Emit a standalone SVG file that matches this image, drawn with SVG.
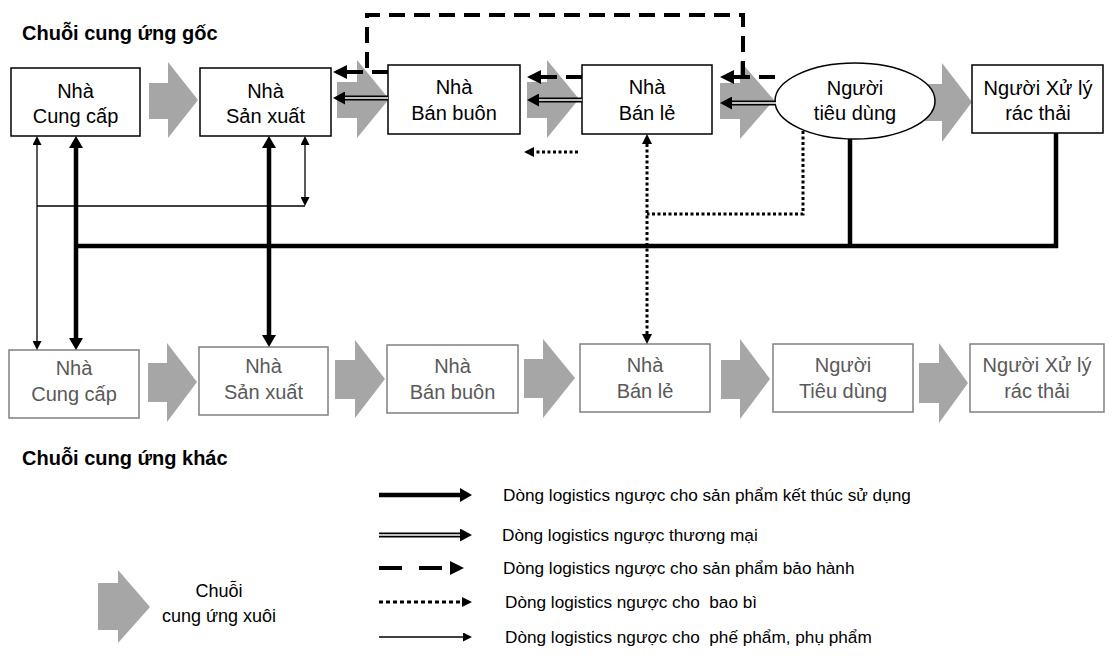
<svg xmlns="http://www.w3.org/2000/svg" width="1114" height="669" viewBox="0 0 1114 669">
<style>
.t{font-family:"Liberation Sans",Arial,sans-serif;font-size:20px;fill:#000;text-anchor:middle}
.tg{font-family:"Liberation Sans",Arial,sans-serif;font-size:20px;fill:#595959;text-anchor:middle}
.ttl{font-family:"Liberation Sans",Arial,sans-serif;font-size:20px;font-weight:bold;fill:#000}
.lg{font-family:"Liberation Sans",Arial,sans-serif;font-size:17.2px;fill:#000}
.box{fill:#fff;stroke:#000;stroke-width:1.5}
.boxg{fill:#fff;stroke:#808080;stroke-width:1.5}
.chev{fill:#a6a6a6}
.thick{fill:none;stroke:#000;stroke-width:4.5}
.thin{fill:none;stroke:#000;stroke-width:1.3}
.dash{fill:none;stroke:#000;stroke-width:4;stroke-dasharray:16 9}
.dot{fill:none;stroke:#000;stroke-width:3;stroke-dasharray:3 2.5}
.dblo{fill:none;stroke:#000;stroke-width:5}
.dbli{fill:none;stroke:#fff;stroke-width:1.6}
</style>
<defs>
<marker id="mThick" viewBox="0 0 12 14" refX="0" refY="7" markerWidth="12" markerHeight="14" markerUnits="userSpaceOnUse" orient="auto-start-reverse"><path d="M0,0L12,7L0,14z" fill="#000"/></marker>
<marker id="mThin" viewBox="0 0 9 9" refX="0" refY="4.5" markerWidth="9" markerHeight="9" markerUnits="userSpaceOnUse" orient="auto-start-reverse"><path d="M0,0L9,4.5L0,9z" fill="#000"/></marker>
<marker id="mDash" viewBox="0 0 14 14" refX="0" refY="7" markerWidth="14" markerHeight="14" markerUnits="userSpaceOnUse" orient="auto-start-reverse"><path d="M0,0L14,7L0,14z" fill="#000"/></marker>
<marker id="mDot" viewBox="0 0 10 10" refX="0" refY="5" markerWidth="10" markerHeight="10" markerUnits="userSpaceOnUse" orient="auto-start-reverse"><path d="M0,0L10,5L0,10z" fill="#000"/></marker>
<marker id="mDbl" viewBox="0 0 12 13" refX="0" refY="6.5" markerWidth="12" markerHeight="13" markerUnits="userSpaceOnUse" orient="auto-start-reverse"><path d="M0,0L12,6.5L0,13z" fill="#000"/></marker>
</defs>

<text class="ttl" x="22" y="40">Chuỗi cung ứng gốc</text>
<text class="ttl" x="22" y="465">Chuỗi cung ứng khác</text>

<g id="forward-chevrons">
<path class="chev" d="M149,83H168V62L198,100L168,138V119H149z"/>
<path class="chev" d="M337,82H357V60L389,99L357,138V118H337z"/>
<path class="chev" d="M527,82H547V60L579,99L547,138V118H527z"/>
<path class="chev" d="M720,83H740V61L774,100L740,139V119H720z"/>
<path class="chev" d="M920,84H942V63L972,102L942,142V121H920z"/>
<path class="chev" d="M148,363H167V343L197,382L167,422V402H148z"/>
<path class="chev" d="M335,360H355V340L385,379L355,418V399H335z"/>
<path class="chev" d="M524,359H543V339L575,378L543,418V398H524z"/>
<path class="chev" d="M721,360H740V339L770,379L740,419V399H721z"/>
<path class="chev" d="M919,363H939V343L968,383L939,423V403H919z"/>
</g>

<g id="n-cungcap"><rect class="box" x="11" y="68" width="129" height="68"/><text class="t" x="75.5" y="98">Nhà</text><text class="t" x="75.5" y="123">Cung cấp</text></g>
<g id="n-sanxuat"><rect class="box" x="200" y="68" width="131" height="68"/><text class="t" x="265.5" y="98">Nhà</text><text class="t" x="265.5" y="123">Sản xuất</text></g>
<g id="n-banbuon"><rect class="box" x="388" y="65" width="132" height="69"/><text class="t" x="454" y="94">Nhà</text><text class="t" x="454" y="120">Bán buôn</text></g>
<g id="n-banle"><rect class="box" x="582" y="65" width="130" height="69"/><text class="t" x="647" y="94">Nhà</text><text class="t" x="647" y="120">Bán lẻ</text></g>
<g id="n-tieudung"><ellipse class="box" cx="855" cy="101" rx="80" ry="38"/><text class="t" x="855" y="95">Người</text><text class="t" x="855" y="120">tiêu dùng</text></g>
<g id="n-xuly"><rect class="box" x="972" y="65" width="131" height="68"/><text class="t" x="1038" y="95">Người Xử lý</text><text class="t" x="1038" y="120">rác thải</text></g>

<g id="b-cungcap"><rect class="boxg" x="9" y="350" width="130" height="68"/><text class="tg" x="74" y="375">Nhà</text><text class="tg" x="74" y="401">Cung cấp</text></g>
<g id="b-sanxuat"><rect class="boxg" x="199" y="347" width="129" height="68"/><text class="tg" x="263.5" y="373">Nhà</text><text class="tg" x="263.5" y="399">Sản xuất</text></g>
<g id="b-banbuon"><rect class="boxg" x="387" y="345" width="131" height="68"/><text class="tg" x="452.5" y="373">Nhà</text><text class="tg" x="452.5" y="399">Bán buôn</text></g>
<g id="b-banle"><rect class="boxg" x="580" y="344" width="130" height="68"/><text class="tg" x="645" y="372">Nhà</text><text class="tg" x="645" y="398">Bán lẻ</text></g>
<g id="b-tieudung"><rect class="boxg" x="773" y="344" width="140" height="68"/><text class="tg" x="843" y="372">Người</text><text class="tg" x="843" y="398">Tiêu dùng</text></g>
<g id="b-xuly"><rect class="boxg" x="970" y="344" width="134" height="68"/><text class="tg" x="1037" y="372">Người Xử lý</text><text class="tg" x="1037" y="398">rác thải</text></g>

<g id="connectors">
<path class="dash" d="M743,77V15H367V72"/>
<path class="dash" d="M388,72H347" marker-end="url(#mDash)"/>
<path class="dash" d="M582,77H541" marker-end="url(#mDash)"/>
<path class="dash" d="M775,77H734" marker-end="url(#mDash)"/>
<path class="dblo" d="M388,98H345" marker-end="url(#mDbl)"/><path class="dbli" d="M388,98H345"/>
<path class="dblo" d="M582,100H539" marker-end="url(#mDbl)"/><path class="dbli" d="M582,100H539"/>
<path class="dblo" d="M776,103H732" marker-end="url(#mDbl)"/><path class="dbli" d="M776,103H732"/>
<path class="dot" d="M578,152H534" marker-end="url(#mDot)"/>
<path class="dot" d="M647,144V334" marker-start="url(#mDot)" marker-end="url(#mDot)"/>
<path class="dot" d="M803,131V214H647"/>
<path class="thick" d="M76,148V338" marker-start="url(#mThick)" marker-end="url(#mThick)"/>
<path class="thick" d="M269,148V335" marker-start="url(#mThick)" marker-end="url(#mThick)"/>
<path class="thick" d="M76,246H1058"/>
<path class="thick" d="M850,139V246"/>
<path class="thick" d="M1056,133V248"/>
<path class="thin" d="M37,145V341" marker-start="url(#mThin)" marker-end="url(#mThin)"/>
<path class="thin" d="M305,145V197" marker-start="url(#mThin)" marker-end="url(#mThin)"/>
<path class="thin" d="M37,206H305"/>
</g>

<g id="legend">
<path class="chev" d="M98,583H118V570L150,607L118,643V630H98z"/>
<text class="t" x="219" y="597" style="font-size:18px">Chuỗi</text>
<text class="t" x="219" y="622" style="font-size:18px">cung ứng xuôi</text>
<path class="thick" d="M379,495H460" marker-end="url(#mThick)"/>
<path class="dblo" d="M379,535H460" marker-end="url(#mDbl)"/><path class="dbli" d="M379,535H460"/>
<path class="dash" d="M379,568H450" style="stroke-dasharray:23 17" marker-end="url(#mDash)"/>
<path class="dot" d="M379,602H462" style="stroke-dasharray:4 3" marker-end="url(#mDot)"/>
<path class="thin" d="M379,637H463" marker-end="url(#mThin)"/>
<text class="lg" x="503" y="501">Dòng logistics ngược cho sản phẩm kết thúc sử dụng</text>
<text class="lg" x="502" y="541">Dòng logistics ngược thương mại</text>
<text class="lg" x="503" y="574">Dòng logistics ngược cho sản phẩm bảo hành</text>
<text class="lg" x="505" y="608" xml:space="preserve">Dòng logistics ngược cho  bao bì</text>
<text class="lg" x="505" y="643" xml:space="preserve">Dòng logistics ngược cho  phế phẩm, phụ phẩm</text>
</g>
</svg>
